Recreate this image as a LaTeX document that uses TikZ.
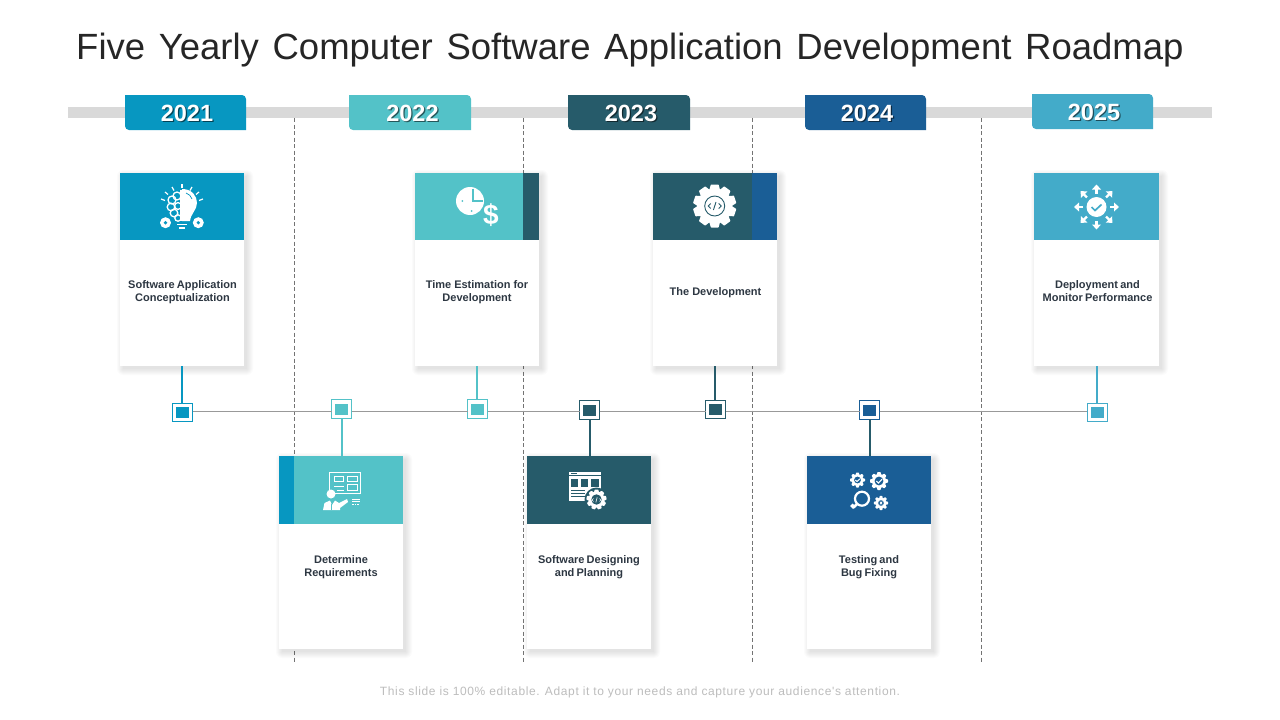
\documentclass[tikz,border=0pt]{standalone}
\usepackage{fontspec}
\setmainfont{Liberation Sans}
\definecolor{cA}{HTML}{0797C1}
\definecolor{cB}{HTML}{53C2C8}
\definecolor{cC}{HTML}{265B6A}
\definecolor{cD}{HTML}{1A5E96}
\definecolor{cE}{HTML}{43ABC9}
\definecolor{barcol}{HTML}{D9D9D9}
\definecolor{inkcol}{HTML}{2D3742}
\definecolor{titlecol}{HTML}{262626}
\definecolor{footcol}{HTML}{BDBDBD}
\newcommand{\tightwords}{\spaceskip=0.2em\relax}
\newcommand{\widewords}{\spaceskip=0.375em\relax}
\newfontfamily\footfont[LetterSpace=5.2]{Liberation Sans}
\tikzset{
  x=1pt,y=-1pt,
  box/.style={inner sep=0pt,outer sep=0pt,draw=none,anchor=north west},
  cardbody/.style={box,fill=white,minimum width=#1,minimum height=193pt},
  cardhead/.style={box,fill=#1,minimum height=67pt},
  labeltext/.style={font=\fontsize{11}{13}\selectfont\bfseries,text=inkcol,align=center,inner sep=0pt},
  yeartext/.style={font=\fontsize{23.5}{26}\selectfont\bfseries,inner sep=0pt,text=white},
  yearshade/.style={font=\fontsize{23.5}{26}\selectfont\bfseries,inner sep=0pt,text=black,opacity=.55},
  dashline/.style={draw=black!55,line width=.8pt,dash pattern=on 4pt off 2.5pt},
  axisline/.style={draw=black!40,line width=1pt},
  stem/.style={line width=2pt,draw=#1},
  outermark/.style={draw=#1,fill=white,line width=1pt,minimum width=20pt,minimum height=18.5pt,inner sep=0pt,outer sep=0pt},
  innermark/.style={fill=#1,minimum width=13pt,minimum height=11pt,inner sep=0pt,outer sep=0pt},
}
% soft shadow behind a rectangle
\newcommand{\softshade}[4]{%
  \foreach \g in {0,1,...,6}{%
    \fill[black,opacity=.016,rounded corners=\g pt] (#1+3-\g,#2+3-\g) rectangle (#3+3+\g,#4+3+\g);
  }}
% gear: cx cy bodyradius teethlength teeth colour
\newcommand{\cog}[6]{%
  \fill[#6] (#1,#2) circle [radius=#3];
  \foreach \k in {1,...,#5}{%
    \fill[#6,rotate around={\k*360/#5:(#1,#2)},rounded corners=.5pt]
      (#1-#3*.34,#2-#3*.8) -- (#1-#3*.22,#2-#3-#4) -- (#1+#3*.22,#2-#3-#4) -- (#1+#3*.34,#2-#3*.8) -- cycle;
  }}
\newcommand{\yeartab}[5]{%
  \fill[#5] (#1,#2) [rounded corners=4pt] -- (#3,#2) [sharp corners] -- (#3,#4) [rounded corners=4pt] -- (#1,#4) [sharp corners] -- cycle;}
\begin{document}
\begin{tikzpicture}
\useasboundingbox (0,0) rectangle (1280,720);
\fill[white] (0,0) rectangle (1280,720);

% title
\node[anchor=base west,inner sep=0pt,text=titlecol,font=\fontsize{36.5}{40}\selectfont] (title) at (76,59) {\widewords Five Yearly Computer Software Application Development Roadmap};

% bar
\node[box,fill=barcol,minimum width=1144pt,minimum height=11pt] (bar) at (68,107) {};

% dashed separators
\foreach \n/\x in {a/294.5,b/523,c/752.5,d/981.5}{
  \coordinate (dt\n) at (\x,118);
  \coordinate (db\n) at (\x,663);
  \draw[dashline] (dt\n) -- (db\n);
}

% year tabs
\yeartab{125}{95}{246}{130}{cA}
\yeartab{349}{95}{471}{130}{cB}
\yeartab{568}{95}{690}{130}{cC}
\yeartab{805}{95}{926}{130}{cD}
\yeartab{1032}{94}{1153}{129}{cE}
\foreach \y/\x/\yy in {2021/187/113,2022/412.5/113,2023/631/113,2024/867/113,2025/1094/112}{
  \node[yearshade] (ys\y) at (\x+1.2,\yy+1.2) {\y};
  \node[yeartext] (yt\y) at (\x,\yy) {\y};
}

% markers
\node[outermark=cA] (m1) at (182.5,412.5) {};
\node[outermark=cB] (m2) at (341.5,409) {};
\node[outermark=cB] (m3) at (477.5,409) {};
\node[outermark=cC] (m4) at (589.5,410) {};
\node[outermark=cC] (m5) at (715.5,409.3) {};
\node[outermark=cD] (m6) at (869.5,410) {};
\node[outermark=cE] (m7) at (1097,412.5) {};
% axis
\coordinate (ax) at (0,411.7);
\draw[axisline] (m1.east |- ax) -- (m2.west |- ax);
\draw[axisline] (m2.east |- ax) -- (m3.west |- ax);
\draw[axisline] (m3.east |- ax) -- (m4.west |- ax);
\draw[axisline] (m4.east |- ax) -- (m5.west |- ax);
\draw[axisline] (m5.east |- ax) -- (m6.west |- ax);
\draw[axisline] (m6.east |- ax) -- (m7.west |- ax);
\node[innermark=cA] (i1) at (m1) {};
\node[innermark=cB] (i2) at (m2) {};
\node[innermark=cB] (i3) at (m3) {};
\node[innermark=cC] (i4) at (m4) {};
\node[innermark=cC] (i5) at (m5) {};
\node[innermark=cD] (i6) at (m6) {};
\node[innermark=cE] (i7) at (m7) {};

% shadows
\softshade{120}{173}{244}{366}
\softshade{415}{173}{539}{366}
\softshade{653}{173}{777}{366}
\softshade{1034}{173}{1159}{366}
\softshade{279}{456}{403}{649}
\softshade{527}{456}{651}{649}
\softshade{807}{456}{931}{649}

% cards
\node[cardbody=124pt] (card1) at (120,173) {};
\node[cardbody=124pt] (card2) at (415,173) {};
\node[cardbody=124pt] (card3) at (653,173) {};
\node[cardbody=125pt] (card4) at (1034,173) {};
\node[cardbody=124pt] (card5) at (279,456) {};
\node[cardbody=124pt] (card6) at (527,456) {};
\node[cardbody=124pt] (card7) at (807,456) {};

\node[cardhead=cA,minimum width=124pt] (head1) at (120,173) {};
\node[cardhead=cB,minimum width=124pt] (head2) at (415,173) {};
\node[cardhead=cC,minimum width=16pt] (band2) at (523,173) {};
\node[cardhead=cC,minimum width=124pt] (head3) at (653,173) {};
\node[cardhead=cD,minimum width=25pt] (band3) at (752,173) {};
\node[cardhead=cE,minimum width=125pt] (head4) at (1034,173) {};
\node[cardhead=cB,minimum width=124pt,minimum height=68pt] (head5) at (279,456) {};
\node[cardhead=cA,minimum width=15pt,minimum height=68pt] (band5) at (279,456) {};
\node[cardhead=cC,minimum width=124pt,minimum height=68pt] (head6) at (527,456) {};
\node[cardhead=cD,minimum width=124pt,minimum height=68pt] (head7) at (807,456) {};

% stems
\draw[stem=cA] (card1.south) -- (card1.south |- m1.north);
\draw[stem=cB] (card2.south) -- (card2.south |- m3.north);
\draw[stem=cC] (card3.south) -- (card3.south |- m5.north);
\draw[stem=cE] (card4.south) -- (card4.south |- m7.north);
\draw[stem=cB] (m2.south) -- (m2.south |- card5.north);
\draw[stem=cC] (m4.south) -- (m4.south |- card6.north);
\draw[stem=cC] (m6.south) -- (m6.south |- card7.north);

% labels
\node[labeltext] (l1) at (182.5,292) {\tightwords Software Application\\\tightwords Conceptualization};
\node[labeltext] (l2) at (477,292) {Time Estimation for\\Development};
\node[labeltext] (l3) at (715.5,293) {The Development};
\node[labeltext] (l4) at (1097.5,291) {\tightwords Deployment and\\\tightwords Monitor Performance};
\node[labeltext] (l5) at (341,567) {Determine\\Requirements};
\node[labeltext] (l6) at (589,567) {\tightwords Software Designing\\\tightwords and Planning};
\node[labeltext] (l7) at (869,567) {\tightwords Testing and\\\tightwords Bug Fixing};

% footer
\node[anchor=base,inner sep=0pt,text=footcol,font=\footfont\fontsize{12}{14}\selectfont] (foot) at (640,695) {This slide is 100\% editable. Adapt it to your needs and capture your audience's attention.};

% ---- icon 1: brain / bulb
\fill[white] (182,189) .. controls (192,189) and (197,196) .. (197,203) .. controls (197,210) and (191,213) .. (190,221) -- (182,221) -- cycle;
\foreach \cx/\cy/\cr in {177/196/4,172/200/4,171/207/3.8,174/213/3.8,178/218/3.2,178/206/3.4}{
  \draw[white,line width=1.3pt] (\cx,\cy) circle[radius=\cr];
}
\draw[white,line width=1.5pt] (181,190) -- (181,221);
\draw[cA,line width=.7pt] (186,193) .. controls (189,194) and (191,196) .. (192,199);
\foreach \xa/\ya/\xb/\yb in {182/184/182/188,172/187/174/190.5,192/187/190/190.5,165/192/168/194.5,199/192/196/194.5,161/199/165/200.5,203/199/199/200.5}{
  \draw[white,line width=1.2pt] (\xa,\ya) -- (\xb,\yb);
}
\fill[white] (177,223.5) rectangle (187,225.3);
\fill[white] (179,227) rectangle (185,229);
\fill[white] (165.5,222.7) circle[radius=5.5];
\fill[white] (198.3,222.7) circle[radius=5.5];
\fill[cA] (165.5,222.7) circle[radius=1.8];
\fill[cA] (198.3,222.7) circle[radius=1.8];

% ---- icon 2: clock and dollar
\fill[white] (470,201) circle[radius=14];
\draw[cB,line width=1.8pt] (472.7,188.5) -- (472.7,201) -- (483,201);
\fill[cB] (462.3,201) circle[radius=1];
\fill[cB] (471.7,211) circle[radius=1];
\fill[cB] (491,215.5) circle[radius=11];
\node[inner sep=0pt,text=white,font=\fontsize{28}{28}\selectfont\bfseries] (dollar) at (491,215.5) {\$};

% ---- icon 3: gear with code
\cog{714.7}{206}{17.5}{4}{10}{white}
\draw[cC,line width=.9pt] (714.7,206) circle[radius=10];
\draw[cC,line width=.9pt] (710.7,203.5) -- (708.2,206) -- (710.7,208.5);
\draw[cC,line width=.9pt] (718.7,203.5) -- (721.2,206) -- (718.7,208.5);
\draw[cC,line width=.9pt] (716,202) -- (713.4,210);

% ---- icon 4: arrows around a check
\fill[white] (1096.5,207) circle[radius=10];
\draw[cE,line width=1.7pt] (1091.5,207) -- (1095,210.5) -- (1101.5,204.5);
\foreach \a in {0,45,...,315}{
  \begin{scope}[rotate around={\a:(1096.5,207)}]
    \draw[white,line width=2.4pt] (1096.5,193.5) -- (1096.5,188);
    \fill[white] (1092,189.5) -- (1096.5,184.5) -- (1101,189.5) -- cycle;
  \end{scope}
}

% ---- icon 5: person and board
\draw[white,line width=1pt] (329.5,472.5) rectangle (360.5,493);
\foreach \xa/\ya/\xb/\yb in {334/476/343/481,347/476/357/481,347/484/357/490}{
  \draw[white,line width=.7pt] (\xa,\ya) rectangle (\xb,\yb);
}
\draw[white,line width=.8pt] (334,486) -- (344,486);
\draw[white,line width=.8pt] (337,490) -- (344,490);
\fill[white] (331,494) circle[radius=4.5];
\fill[white] (323,510) -- (324.5,503) -- (330,500.5) -- (332,505) -- (335,500.5) -- (339,503) -- (347,499) -- (348,502) -- (340,508) -- (340,510) -- cycle;
\draw[cB,line width=.7pt] (331,504) -- (331,510);
\draw[white,line width=1pt] (352,499) -- (360,499);
\draw[white,line width=1pt] (352,501.5) -- (360,501.5);
\draw[white,line width=1pt,dash pattern=on 1.5pt off 1.2pt] (352,504.5) -- (360,504.5);

% ---- icon 6: window and gear
\fill[white] (569,472) rectangle (601,501);
\fill[cC] (569,474.8) rectangle (601,475.6);
\fill[cC] (570.5,473) rectangle (577,474.2);
\fill[cC] (571,479) rectangle (578,487);
\fill[cC] (581,479) rectangle (588,487);
\fill[cC] (591,479) rectangle (599,487);
\foreach \yy in {490,493,496}{
  \fill[cC] (571,\yy) rectangle (585,\yy+.8);
}
\fill[cC] (596.5,499.5) circle[radius=12];
\cog{596.5}{499.5}{8}{2}{9}{white}
\fill[cC] (596.5,499.5) circle[radius=5.2];
\draw[white,line width=.6pt] (593.5,498.5) -- (592,500) -- (593.5,501.5);
\draw[white,line width=.6pt] (599.5,498.5) -- (601,500) -- (599.5,501.5);
\draw[white,line width=.6pt] (597.2,497.3) -- (595.8,502.5);

% ---- icon 7: gears and magnifier
\cog{857.5}{480}{5.8}{1.7}{8}{white}
\fill[cD] (857.5,480) circle[radius=3.4];
\draw[white,line width=1pt] (855.3,480) -- (857,481.5) -- (860,478.8);
\cog{879}{481}{7}{2}{8}{white}
\fill[cD] (879,481) circle[radius=4.4];
\draw[white,line width=1.1pt] (876.3,481) -- (878.5,483) -- (882,479.2);
\draw[white,line width=2.2pt] (862,498.7) circle[radius=7];
\draw[white,line width=2.6pt] (857,504) -- (853.5,507.5);
\fill[white] (850,506) -- (852.5,503.5) -- (855.5,506.5) -- (853,509) -- cycle;
\cog{881}{503}{5.5}{1.7}{8}{white}
\fill[cD] (881,503) circle[radius=2.8];
\draw[white,line width=.8pt] (879.8,501.6) -- (882.2,504.4);
\draw[white,line width=.8pt] (882.2,501.6) -- (879.8,504.4);
\end{tikzpicture}
\end{document}
